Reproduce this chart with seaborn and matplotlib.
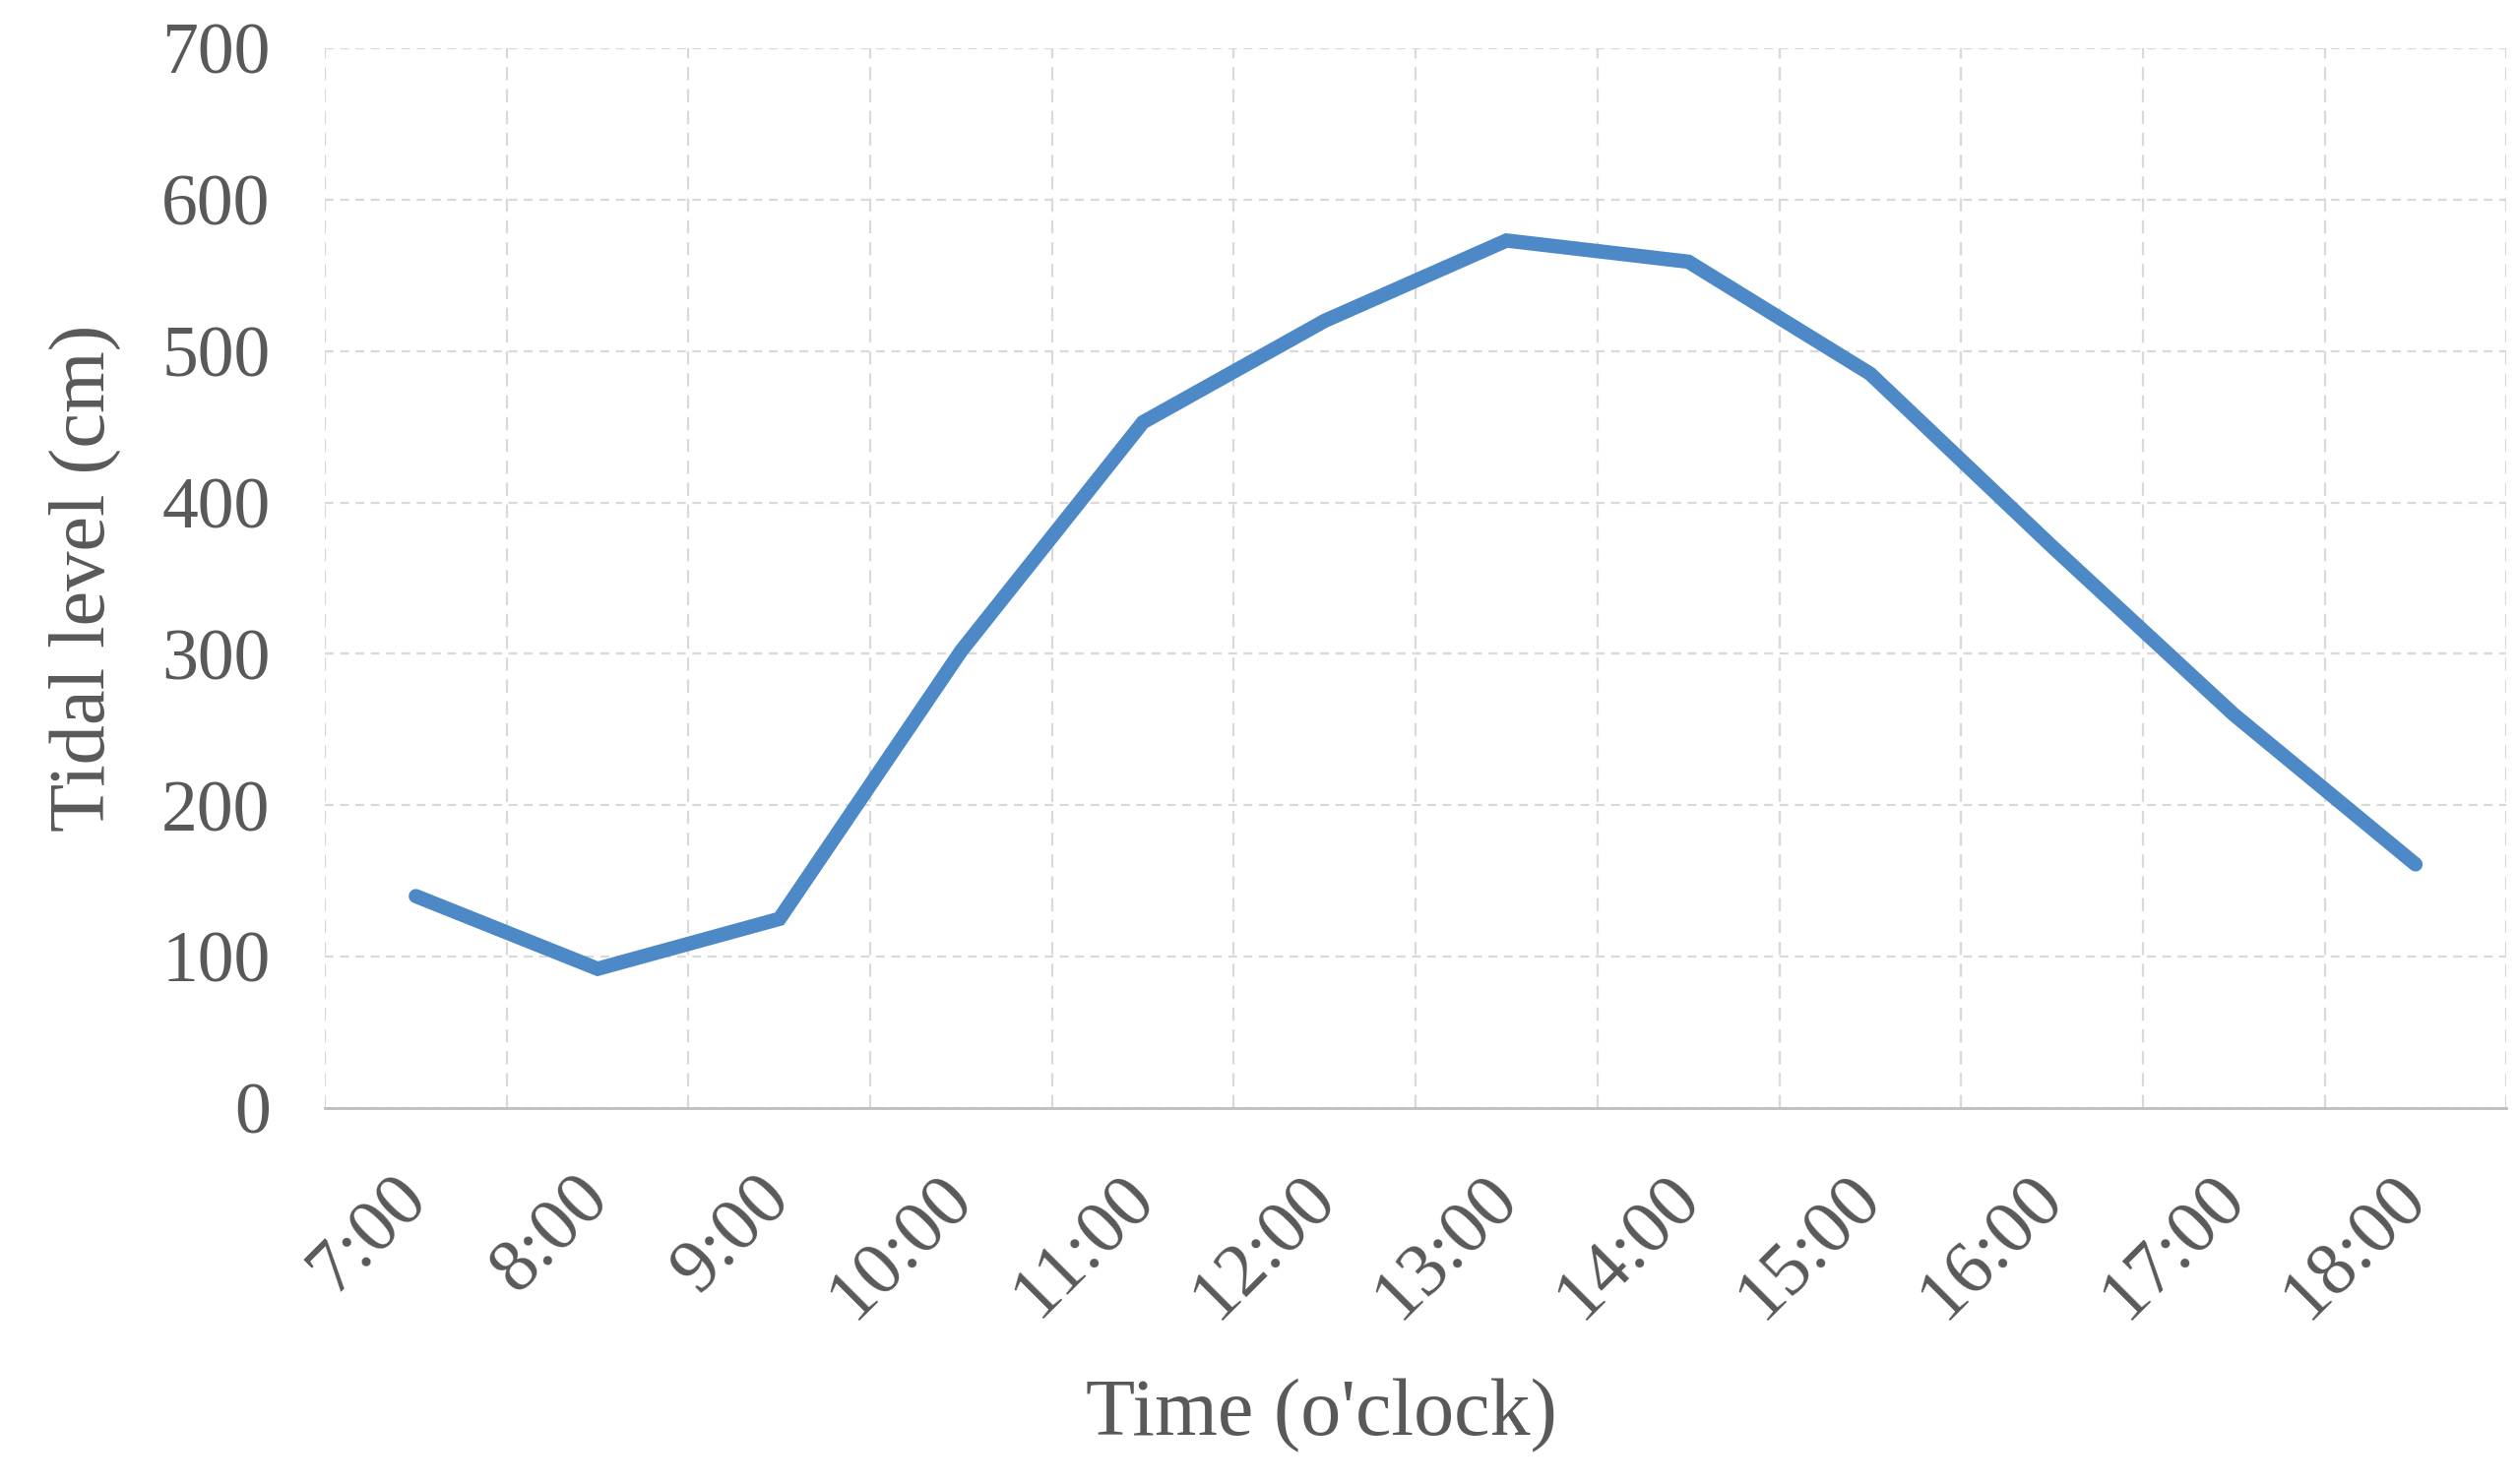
import numpy as np
import pandas as pd
import seaborn as sns
import matplotlib.pyplot as plt
from matplotlib.ticker import FixedLocator

# data
times = ["7:00", "8:00", "9:00", "10:00", "11:00", "12:00",
         "13:00", "14:00", "15:00", "16:00", "17:00", "18:00"]
tide_cm = [140, 92, 125, 302, 453, 520, 573, 559, 485, 371, 260, 161]
y_ticks = [0, 100, 200, 300, 400, 500, 600, 700]

df = pd.DataFrame({"pos": np.arange(len(times)), "tide": tide_cm})

sns.set_style("white")
plt.rcParams["font.family"] = ["Liberation Serif", "DejaVu Serif"]

text_col = "#595959"
grid_col = "#d9d9d9"

fig = plt.figure(figsize=(25.59, 15.08), dpi=100)
ax = fig.add_axes([0.129, 0.2533, 0.866, 0.7142])

sns.lineplot(data=df, x="pos", y="tide", ax=ax, color="#4d89c7",
             linewidth=10.5, solid_capstyle="round", solid_joinstyle="miter")

ax.set_xlim(-0.5, len(times) - 0.5)
ax.set_ylim(0, 700)

# category axis: labels at centres, gridlines between categories
ax.set_xticks(df["pos"])
ax.set_xticklabels(times, rotation=45, ha="right", va="center",
                   rotation_mode="anchor", color=text_col, fontsize=55)
ax.xaxis.set_minor_locator(FixedLocator(np.arange(-0.5, len(times), 1.0)))
ax.set_yticks(y_ticks)
ax.set_yticklabels([str(v) for v in y_ticks], color=text_col, fontsize=53)

ax.tick_params(axis="x", which="major", length=0, pad=58)
ax.tick_params(axis="x", which="minor", length=0)
ax.tick_params(axis="y", length=0, pad=40)

ax.grid(False)
ax.grid(axis="y", which="major", color=grid_col, linestyle=(0, (4, 3)), linewidth=1.6)
ax.grid(axis="x", which="minor", color=grid_col, linestyle=(0, (6, 4)), linewidth=1.6)

for side in ["left", "right", "top"]:
    ax.spines[side].set_visible(False)
ax.spines["bottom"].set_color("#bfbfbf")
ax.spines["bottom"].set_linewidth(2)

ax.set_xlabel("Time (o'clock)", fontsize=59, color=text_col, labelpad=32)
ax.xaxis.set_label_coords(0.457, -0.255)
ax.set_ylabel("Tidal level (cm)", fontsize=58, color=text_col, labelpad=30)

fig.savefig("out.png", dpi=100, facecolor="white")
